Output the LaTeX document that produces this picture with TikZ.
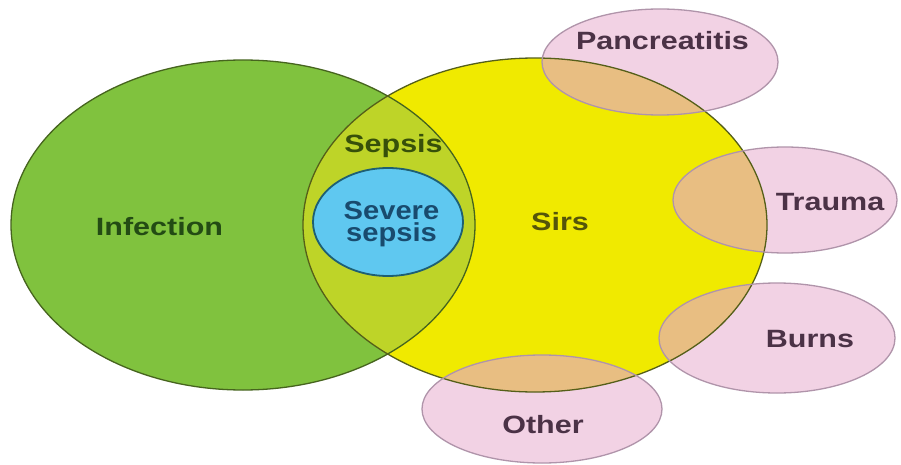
\documentclass[tikz,border=0pt]{standalone}
\usepackage{fontspec}
\setmainfont{Liberation Sans}
\newfontfamily\labfont[FakeStretch=1.22]{Liberation Sans}
\newfontfamily\sevfont[FakeStretch=1.12]{Liberation Sans}
\definecolor{gfill}{RGB}{128,194,62}
\definecolor{gline}{RGB}{70,100,30}
\definecolor{yfill}{RGB}{240,234,0}
\definecolor{yline}{RGB}{85,95,25}
\definecolor{lensfill}{RGB}{190,212,40}
\definecolor{bfill}{RGB}{95,200,240}
\definecolor{bline}{RGB}{30,95,115}
\definecolor{pfill}{RGB}{242,210,228}
\definecolor{pline}{RGB}{176,148,170}
\definecolor{tanfill}{RGB}{232,190,130}
\definecolor{gtext}{RGB}{35,75,20}
\definecolor{stext}{RGB}{55,80,10}
\definecolor{btext}{RGB}{25,75,110}
\definecolor{ytext}{RGB}{85,85,10}
\definecolor{ptext}{RGB}{75,50,70}
\def\GreenE{(243,225) ellipse [x radius=232pt, y radius=165pt]}
\def\YellowE{(535,225) ellipse [x radius=232pt, y radius=167pt]}
\def\BlueE{(388,222) ellipse [x radius=75pt, y radius=54pt]}
\def\PancE{(660,62) ellipse [x radius=118pt, y radius=53pt]}
\def\TraumaE{(785,200) ellipse [x radius=112pt, y radius=53pt]}
\def\BurnsE{(777,338) ellipse [x radius=118pt, y radius=55pt]}
\def\OtherE{(542,409) ellipse [x radius=120pt, y radius=54pt]}
\begin{document}
\begin{tikzpicture}[x=1pt,y=-1pt,
  lab/.style={font=\labfont\bfseries\fontsize{25}{27}\selectfont, inner sep=0pt, anchor=base},
  sevlab/.style={font=\sevfont\bfseries\fontsize{26}{22}\selectfont, inner sep=0pt, align=center, text=btext},
  pinklab/.style={lab, text=ptext},
  border/.style={line width=1.3pt}]
\useasboundingbox (0,0) rectangle (901,465);
\fill[white] (0,0) rectangle (901,465);
% fills
\fill[gfill] \GreenE;
\fill[yfill] \YellowE;
\begin{scope}
  \clip \GreenE;
  \fill[lensfill] \YellowE;
\end{scope}
\fill[pfill] \PancE;
\fill[pfill] \TraumaE;
\fill[pfill] \BurnsE;
\fill[pfill] \OtherE;
\begin{scope}
  \clip \YellowE;
  \fill[tanfill] \PancE;
  \fill[tanfill] \TraumaE;
  \fill[tanfill] \BurnsE;
  \fill[tanfill] \OtherE;
\end{scope}
% borders
\draw[border, gline] \GreenE;
\draw[border, yline] \YellowE;
\draw[border, pline] \PancE;
\draw[border, pline] \TraumaE;
\draw[border, pline] \BurnsE;
\draw[border, pline] \OtherE;
\filldraw[fill=bfill, draw=bline, line width=1.8pt] \BlueE;
% labels
\node[lab, text=gtext] (infection) at (159.5,235) {Infection};
\node[lab, text=stext] (sepsis) at (393.5,153) {Sepsis};
\node[sevlab] (severe) at (391.5,224) {Severe\\sepsis};
\node[lab, text=ytext] (sirs) at (560,230) {Sirs};
\node[pinklab] (panc) at (662.5,50) {Pancreatitis};
\node[pinklab] (trauma) at (830,210) {Trauma};
\node[pinklab] (burns) at (810,347) {Burns};
\node[pinklab] (other) at (543,433) {Other};
\end{tikzpicture}
\end{document}
